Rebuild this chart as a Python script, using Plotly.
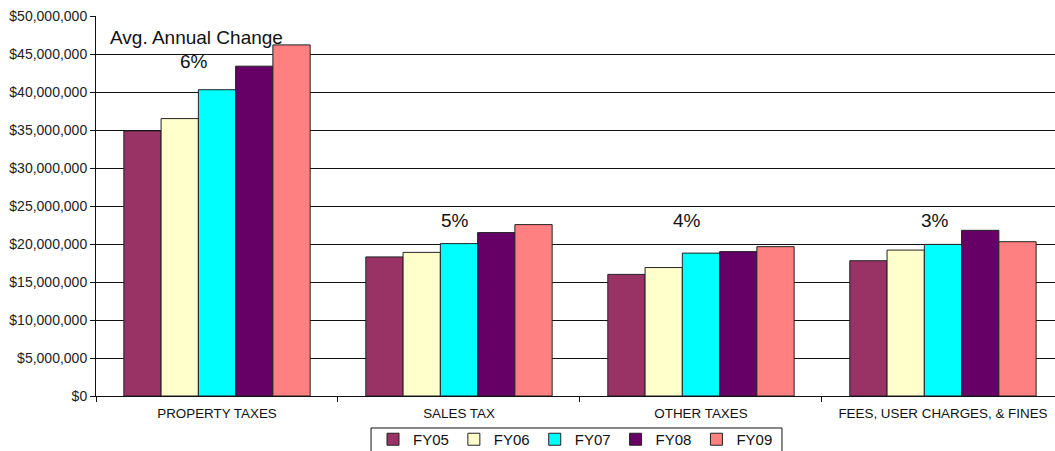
import plotly.graph_objects as go

# Revenue categories and fiscal years
categories = ["PROPERTY TAXES", "SALES TAX", "OTHER TAXES", "FEES, USER CHARGES, & FINES"]
fiscal_years = ["FY05", "FY06", "FY07", "FY08", "FY09"]

fy05 = [34_870_000, 18_300_000, 16_000_000, 17_800_000]
fy06 = [36_500_000, 18_900_000, 16_900_000, 19_200_000]
fy07 = [40_300_000, 20_050_000, 18_800_000, 19_950_000]
fy08 = [43_400_000, 21_500_000, 19_000_000, 21_800_000]
fy09 = [46_200_000, 22_550_000, 19_650_000, 20_300_000]

avg_change = ["6%", "5%", "4%", "3%"]

series = [fy05, fy06, fy07, fy08, fy09]
colors = ["#993366", "#FFFFCC", "#00FFFF", "#660066", "#FF8080"]

FONT = "Liberation Sans, Arial, sans-serif"

fig = go.Figure()
for name, vals, col in zip(fiscal_years, series, colors):
    fig.add_trace(go.Bar(
        x=categories, y=vals, name=name,
        marker=dict(color=col, line=dict(color="#222222", width=1)),
    ))

# growth-rate labels above each group
label_pos = [(-23, 44_000_000), (-4, 23_100_000), (-14, 23_100_000), (-8, 23_100_000)]
for i, (txt, (dx, yv)) in enumerate(zip(avg_change, label_pos)):
    fig.add_annotation(x=i, y=yv, xref="x", yref="y", text=txt, showarrow=False,
                       xshift=dx, font=dict(size=19, color="#111111", family=FONT),
                       xanchor="center", yanchor="middle")

fig.add_annotation(x=-0.45, y=47_200_000, xref="x", yref="y", text="Avg. Annual Change",
                   showarrow=False, xanchor="left", yanchor="middle",
                   font=dict(size=19, color="#111111", family=FONT))

# frame around the legend, running off the bottom edge
fig.add_shape(type="rect", xref="paper", yref="paper",
              x0=0.2868, x1=0.7153, y0=-0.0842, y1=-0.18,
              line=dict(color="#111111", width=1), fillcolor="rgba(0,0,0,0)")

fig.update_layout(
    width=1055, height=451,
    margin=dict(l=96, r=0, t=16, b=55, autoexpand=False),
    paper_bgcolor="white", plot_bgcolor="white",
    barmode="group", bargap=0.23, bargroupgap=0,
    font=dict(family=FONT, color="#111111"),
    showlegend=True,
    legend=dict(orientation="h", x=0.5, xanchor="center",
                yref="container", y=0.0621, yanchor="top",
                borderwidth=0, bgcolor="rgba(0,0,0,0)", font=dict(size=15, family=FONT),
                traceorder="normal", itemwidth=30),
)

fig.update_xaxes(
    type="category", range=[-0.5, 3.463],
    showline=True, linecolor="#111111", linewidth=1,
    ticks="outside", tickson="boundaries", ticklen=5, tickcolor="#111111",
    tickfont=dict(size=13.4, family=FONT, color="#111111"), ticklabelstandoff=5,
    showgrid=False,
)
fig.update_yaxes(
    range=[0, 50_000_000], dtick=5_000_000, tickformat="$,.0f",
    showline=True, linecolor="#111111", linewidth=1,
    ticks="outside", ticklen=5, tickcolor="#111111",
    showgrid=True, gridcolor="#111111", gridwidth=1, zeroline=False,
    tickfont=dict(size=14, family=FONT, color="#222222"),
)

fig.write_html("out.html")
